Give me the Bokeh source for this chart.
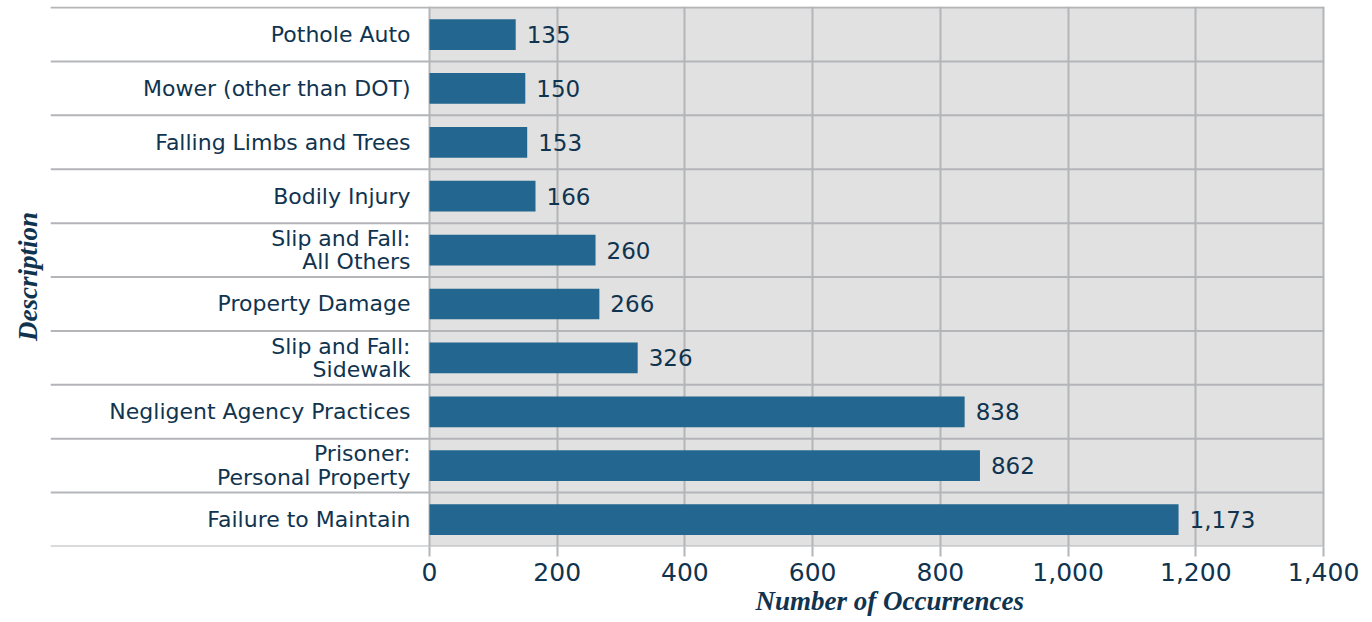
from bokeh.plotting import figure
from bokeh.models import Range1d, FixedTicker, NumeralTickFormatter, Title, ColumnDataSource
from bokeh.core.properties import value
from bokeh.embed import file_html
from bokeh.resources import INLINE

categories = ["Failure to Maintain", "Prisoner:\nPersonal Property", "Negligent Agency Practices",
              "Slip and Fall:\nSidewalk", "Property Damage", "Slip and Fall:\nAll Others",
              "Bodily Injury", "Falling Limbs and Trees", "Mower (other than DOT)", "Pothole Auto"]
counts = [1173, 862, 838, 326, 266, 260, 166, 153, 150, 135]
x_ticks = [0, 200, 400, 600, 800, 1000, 1200, 1400]
x_title = "Number of Occurrences"
y_title = "Description"

TEXT = "#10344f"
BAR = "#236690"
BG = "#e1e1e1"
LINE = "#b3b5b8"

n = len(categories)
pos = list(range(n))
src = ColumnDataSource(dict(y=pos, v=counts, cat=categories,
                            lab=["{:,}".format(c) for c in counts]))

X0 = -593.5
Y1 = n - 0.5 + 0.02
p = figure(width=1372, height=622, output_backend="svg", toolbar_location=None,
           x_range=Range1d(X0, 1403.1), y_range=Range1d(-0.5, Y1),
           min_border_left=50, min_border_right=47, min_border_top=6, min_border_bottom=76,
           outline_line_color=None, background_fill_color="white")

# gray plot area behind grid
p.quad(left=[0], right=[x_ticks[-1]], bottom=[-0.5], top=[Y1],
       fill_color=BG, line_color=None, level="image")

# row separators across the whole width
sep_y = [i - 0.5 for i in range(n + 1)]
p.segment(x0=[X0] * len(sep_y), x1=[x_ticks[-1]] * len(sep_y), y0=sep_y, y1=sep_y,
          line_color=LINE, line_width=2)

p.hbar(y="y", right="v", left=0, height=0.57, source=src, fill_color=BAR, line_color=None)

p.text(x="v", y="y", text="lab", source=src, x_offset=11, text_baseline="middle",
       text_align="left", text_font=value("DejaVu Sans"), text_font_size="23px", text_color=TEXT)

p.text(x=0, y="y", text="cat", source=src, x_offset=-19, text_baseline="middle",
       text_align="right", text_font=value("DejaVu Sans"), text_font_size="22px",
       text_color=TEXT, text_line_height=0.95)

# grid
p.ygrid.visible = False
p.xgrid.ticker = FixedTicker(ticks=x_ticks)
p.xgrid.grid_line_color = LINE
p.xgrid.grid_line_width = 2

p.yaxis.visible = False
xa = p.xaxis[0]
xa.ticker = FixedTicker(ticks=x_ticks)
xa.formatter = NumeralTickFormatter(format="0,0")
xa.axis_line_color = None
xa.major_tick_line_color = LINE
xa.major_tick_line_width = 2
xa.major_tick_in = 0
xa.major_tick_out = 10
xa.minor_tick_line_color = None
xa.major_label_standoff = 6
xa.major_label_text_font = "DejaVu Sans"
xa.major_label_text_font_size = "25px"
xa.major_label_text_color = TEXT

p.add_layout(Title(text=x_title, align="left", offset=705,
                   text_font="Liberation Serif", text_font_style="bold italic",
                   text_font_size="27px", text_color=TEXT, standoff=0), "below")
p.add_layout(Title(text=y_title, align="center",
                   text_font="Liberation Serif", text_font_style="bold italic",
                   text_font_size="27px", text_color=TEXT, standoff=16), "left")

open("out.html", "w").write(file_html(p, INLINE))
